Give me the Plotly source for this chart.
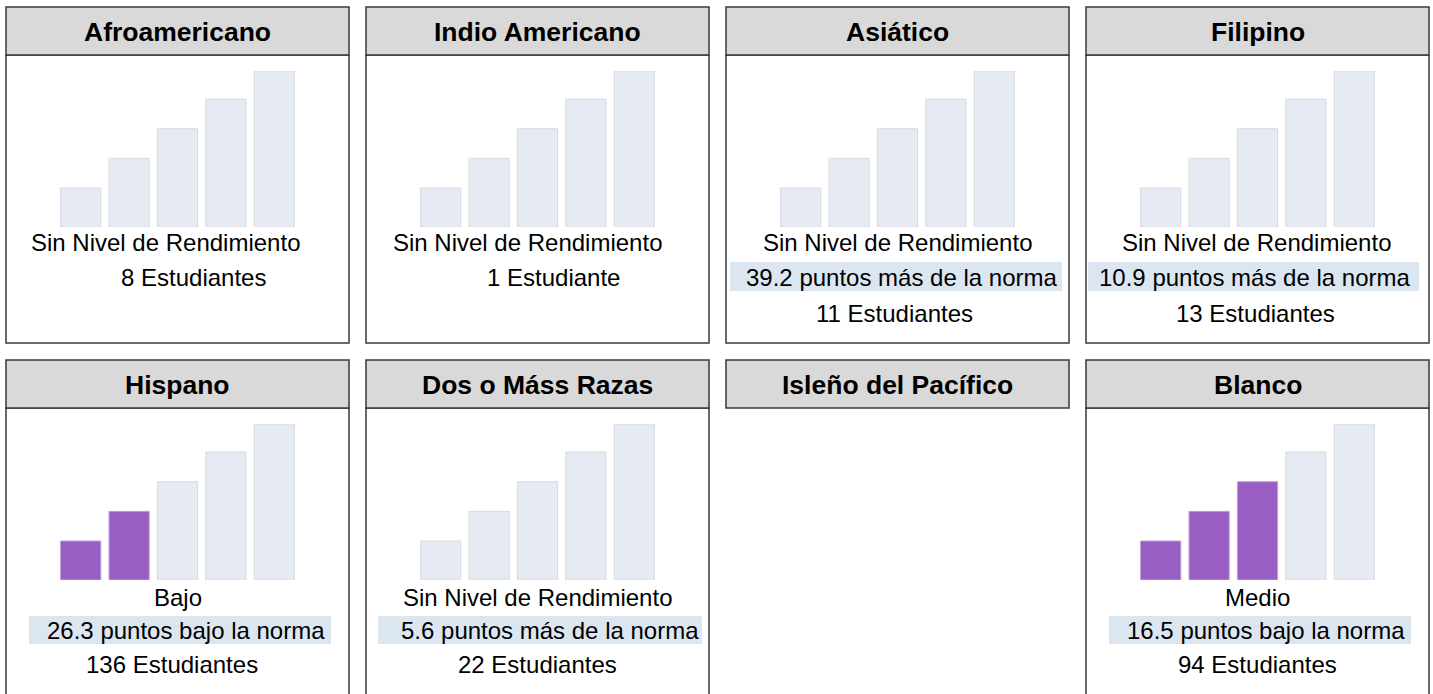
import plotly.graph_objects as go

# ---------------- data ----------------
groups = ["Afroamericano", "Indio Americano", "Asiático", "Filipino",
          "Hispano", "Dos o Máss Razas", "Isleño del Pacífico", "Blanco"]
performance_level = ["Sin Nivel de Rendimiento", "Sin Nivel de Rendimiento",
                     "Sin Nivel de Rendimiento", "Sin Nivel de Rendimiento",
                     "Bajo", "Sin Nivel de Rendimiento", None, "Medio"]
filled_bars = [0, 0, 0, 0, 2, 0, None, 3]
points_from_standard = [None, None, 39.2, 10.9, -26.3, 5.6, None, -16.5]
student_counts = [8, 1, 11, 13, 136, 22, None, 94]
level_categories = ["Muy bajo", "Bajo", "Medio", "Alto", "Muy alto"]
level_bar_heights = [25, 44, 63, 82, 100]

# ---------------- layout constants ----------------
W, H = 1433, 694
FONT = "Liberation Sans, Arial, Helvetica, sans-serif"
BORDER = "#3a3a3a"
HEADER_FILL = "#d9d9d9"
BAND_FILL = "#dce6f1"
BAR_EMPTY = "#e6eaf2"
BAR_EMPTY_LINE = "#d6dae2"
BAR_FILLED = "#995ec4"
BAR_FILLED_LINE = "#bf9ad8"


def px(x):
    return x / W


def py(y):
    return 1 - y / H


panel_left = [6, 366, 726, 1086, 6, 366, 726, 1086]
panel_w = 343
row_top = [7, 360]
header_h = 48
row_bottom = [343, 760]
bar_base = [227, 580]
bar_top = [71, 424]
level_y = [242, 597]
dist_y = [277, 630]
count_y = [313, 664]
count_y_nodist = [277, 631]
band_y = [(262, 291), (616, 644)]
band_x = [None, None, (4, 336), (2, 333), (23, 325), (12, 336), None, (23, 325)]
level_dx = [-12, -10.5, 0, -1.5, 0, 0, 0, 0]
dist_dx = [0, 0, 4.5, -3, 8, 12.5, 0, 8]
count_dx = [15.5, 16, -3, -2, -5.5, 0, 0, 0]

fig = go.Figure()
shapes = []
annotations = []
layout_axes = {}

for i, name in enumerate(groups):
    row = 0 if i < 4 else 1
    left = panel_left[i]
    right = left + panel_w
    cx = left + panel_w / 2
    top = row_top[row]
    hb = top + header_h

    # body box (not for panels without data)
    if performance_level[i] is not None:
        shapes.append(dict(type="rect", xref="paper", yref="paper",
                           x0=px(left), x1=px(right), y0=py(row_bottom[row]), y1=py(hb),
                           fillcolor="white", line=dict(color=BORDER, width=1.5),
                           layer="below"))
    # header
    shapes.append(dict(type="rect", xref="paper", yref="paper",
                       x0=px(left), x1=px(right), y0=py(hb), y1=py(top),
                       fillcolor=HEADER_FILL, line=dict(color=BORDER, width=1.5),
                       layer="below"))
    annotations.append(dict(xref="paper", yref="paper", x=px(cx), y=py(top + 25),
                            text="<b>" + name + "</b>", showarrow=False,
                            xanchor="center", yanchor="middle",
                            font=dict(family=FONT, size=26.5, color="black")))

    if performance_level[i] is None:
        continue

    # bars
    k = len(fig.data) + 1
    ax = "" if k == 1 else str(k)
    colors = [BAR_FILLED if j < filled_bars[i] else BAR_EMPTY for j in range(5)]
    lcolors = [BAR_FILLED_LINE if j < filled_bars[i] else BAR_EMPTY_LINE for j in range(5)]
    fig.add_trace(go.Bar(x=level_categories, y=level_bar_heights,
                         marker=dict(color=colors, line=dict(color=lcolors, width=1)),
                         xaxis="x" + ax, yaxis="y" + ax, hoverinfo="skip"))
    layout_axes["xaxis" + ax] = dict(domain=[px(left + 50.5), px(left + 292.5)],
                                     type="category", range=[-0.5, 4.5],
                                     visible=False, anchor="y" + ax, fixedrange=True)
    layout_axes["yaxis" + ax] = dict(domain=[py(bar_base[row]), py(bar_top[row])],
                                     range=[0, 100], visible=False,
                                     anchor="x" + ax, fixedrange=True)

    # texts
    annotations.append(dict(xref="paper", yref="paper", x=px(cx + level_dx[i]),
                            y=py(level_y[row]), text=performance_level[i],
                            showarrow=False, xanchor="center", yanchor="middle",
                            font=dict(family=FONT, size=24, color="black")))
    v = points_from_standard[i]
    n = student_counts[i]
    count_text = f"{n} Estudiante" if n == 1 else f"{n} Estudiantes"
    if v is not None:
        bx0, bx1 = band_x[i]
        shapes.append(dict(type="rect", xref="paper", yref="paper",
                           x0=px(left + bx0), x1=px(left + bx1),
                           y0=py(band_y[row][1]), y1=py(band_y[row][0]),
                           fillcolor=BAND_FILL, line=dict(width=0), layer="below"))
        word = "más de la norma" if v > 0 else "bajo la norma"
        annotations.append(dict(xref="paper", yref="paper", x=px(cx + dist_dx[i]),
                                y=py(dist_y[row]), text=f"{abs(v):.1f} puntos {word}",
                                showarrow=False, xanchor="center", yanchor="middle",
                                font=dict(family=FONT, size=24, color="black")))
        cy = count_y[row]
    else:
        cy = count_y_nodist[row]
    annotations.append(dict(xref="paper", yref="paper", x=px(cx + count_dx[i]),
                            y=py(cy), text=count_text,
                            showarrow=False, xanchor="center", yanchor="middle",
                            font=dict(family=FONT, size=24, color="black")))

fig.update_layout(width=W, height=H, margin=dict(l=0, r=0, t=0, b=0),
                  paper_bgcolor="white", plot_bgcolor="rgba(0,0,0,0)",
                  showlegend=False, bargap=0.17,
                  shapes=shapes, annotations=annotations, **layout_axes)

fig.write_html("out.html", config={"displayModeBar": False},
               post_script="document.body.style.margin='0';"
                           "document.body.style.padding='0';"
                           "document.body.style.overflow='hidden';")
